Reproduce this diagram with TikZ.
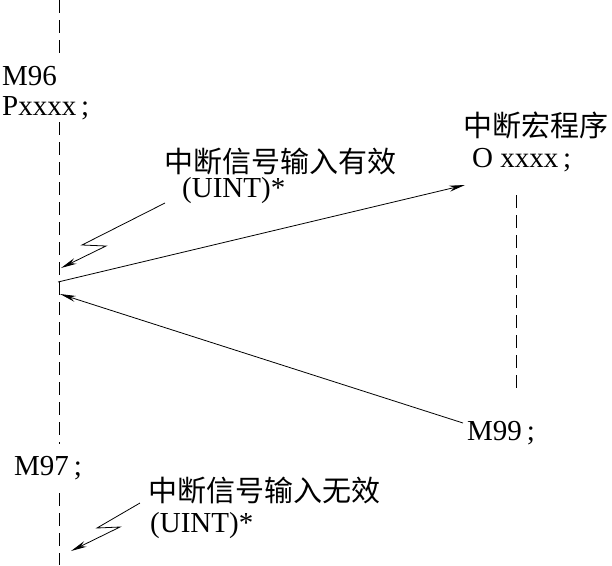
\documentclass[tikz,border=0pt]{standalone}
\usepackage{fontspec}
\setmainfont{Liberation Serif}
\newfontfamily\cjk{Noto Sans CJK SC}
\usetikzlibrary{arrows.meta}

\begin{document}
\begin{tikzpicture}[x=1pt, y=-1pt,
  txt/.style={inner sep=0pt, anchor=base west, font=\fontsize{29}{31}\selectfont},
  zh/.style={inner sep=0pt, font=\fontsize{29}{32}\cjk},
  timeline/.style={line width=0.8pt, dash pattern=on 13pt off 7pt},
  flow/.style={line width=0.8pt, -{Stealth[length=16pt,width=6pt]}}]
  \useasboundingbox (0,0) rectangle (612,565);

  % main program
  \node[txt] (m96) at (2,85) {M96};
  \node[txt] (pxxxx) at (2,115) {Pxxxx\,;};
  \node[txt] (m97) at (14,475) {M97\,;};

  \coordinate (main top) at (59,0);
  \coordinate (main a) at (59,55);
  \coordinate (main b) at (59,122);
  \coordinate (main c) at (59,444);
  \coordinate (main d) at (59,493);
  \coordinate (main end) at (59,565);
  \draw[timeline] (main top) -- (main a);
  \draw[timeline] (main b) -- (main c);
  \draw[timeline] (main d) -- (main end);

  % interrupt macro
  \node[zh] (macro) at (536,125) {中断宏程序};
  \node[txt] (oxxxx) at (472,167) {O xxxx\,;};
  \node[txt] (m99) at (467,440) {M99\,;};
  \coordinate (macro top) at (516,195);
  \coordinate (macro end) at (516,392);
  \draw[timeline] (macro top) -- (macro end);

  % signals
  \node[zh] (sig on) at (280,162) {中断信号输入有效};
  \node[txt] (uint on) at (182,197) {(UINT)*};
  \node[zh] (sig off) at (264,490) {中断信号输入无效};
  \node[txt] (uint off) at (150,532) {(UINT)*};

  \coordinate (on start) at (165,203);
  \coordinate (off start) at (140,503);
  \draw[flow] (on start) -- ++(-83,42) -- ++(24,1) -- ++(-45,22);
  \draw[flow] (off start) -- ++(-43,25) -- ++(23,-1) -- ++(-49,24);

  % jump and return
  \coordinate (jump) at (58,282);
  \coordinate (entry) at (465,185);
  \coordinate (exit) at (463,423);
  \coordinate (back) at (60,294);
  \draw[flow] (jump) -- (entry);
  \draw[flow] (exit) -- (back);
\end{tikzpicture}
\end{document}
